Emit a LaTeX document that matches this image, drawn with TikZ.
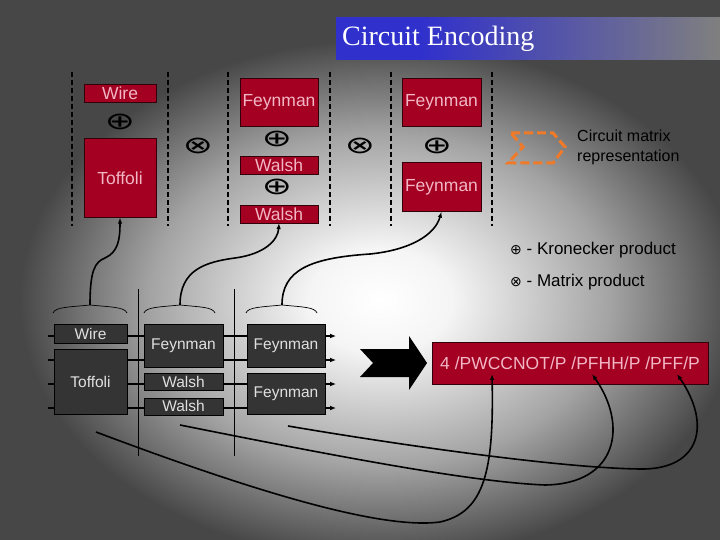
\documentclass[tikz,border=0pt]{standalone}
\usepackage{fontspec}
\setsansfont{Liberation Sans}
\newfontfamily\titlefont{Liberation Serif}
\newfontfamily\symfont{DejaVu Sans}
\usepackage{xcolor}
\usetikzlibrary{arrows.meta}
\usetikzlibrary{positioning}

\definecolor{boxred}{RGB}{163,0,34}
\definecolor{boxpink}{RGB}{242,182,196}
\definecolor{boxdark}{RGB}{52,52,52}
\definecolor{titleblue}{RGB}{48,48,204}
\definecolor{chevorange}{RGB}{240,122,40}

\pgfdeclareradialshading{slidebg}{\pgfpointorigin}{%
  color(0bp)=(white); color(5bp)=(white!96!black);
  color(16bp)=(black!36); color(25bp)=(black!72); color(50bp)=(black!72)}
\pgfdeclarehorizontalshading{titlebar}{100bp}{%
  color(0bp)=(titleblue); color(36bp)=(titleblue);
  color(75bp)=(black!50); color(100bp)=(black!50)}

\newcommand{\kronsym}{\scalebox{1.5}[1]{⊕}}
\newcommand{\prodsym}{\scalebox{1.5}[1]{⊗}}

\tikzset{
  redbox/.style={shape=rectangle, draw=black!70!boxred, fill=boxred,
    text=boxpink, inner sep=0pt, font=\sffamily\fontsize{17.5}{20}\selectfont},
  darkbox/.style={shape=rectangle, draw=black, fill=boxdark,
    text=black!12, inner sep=0pt, font=\sffamily\fontsize{15.5}{18}\selectfont},
  opsym/.style={inner sep=0pt, font=\symfont\fontsize{24}{24}\selectfont},
  sepline/.style={line width=2.5pt, dash pattern=on 5pt off 3pt},
  wireline/.style={line width=2pt, -{Latex[length=6pt,width=5pt]}},
  linkline/.style={line width=1.6pt, -{Latex[length=6pt,width=4.5pt]}},
}

\begin{document}
\begin{tikzpicture}[x=1pt, y=-1pt, font=\sffamily]
  \useasboundingbox (0,0) rectangle (720,540);

  % slide background
  \fill[black!72] (0,0) rectangle (720,540);
  \begin{scope}
    \clip (0,0) rectangle (720,540);
    \shade[shading=slidebg] (20,40) rectangle (740,560);
  \end{scope}
  \shade[shading=titlebar] (336,18) rectangle (720,60);
  \node[name=title, anchor=west, text=white, inner sep=0pt,
    font=\titlefont\fontsize{28}{30}\selectfont] at (342,39) {Circuit Encoding};

  % top: matrix form
  \foreach \x in {72,168,228,330,391,492}
    \draw[sepline] (\x,72) -- (\x,226);

  \node[name=wireR, redbox, minimum width=72pt, minimum height=18pt] at (120,93) {Wire};
  \node[name=kron1, opsym] at (120,122) {\kronsym};
  \node[name=toffR, redbox, minimum width=72pt, minimum height=79pt,
    below=36pt of wireR] {Toffoli};
  \node[name=prod1, opsym] at (198,146) {\prodsym};

  \node[name=feynR1, redbox, minimum width=78pt, minimum height=48pt] at (279,102) {Feynman};
  \node[name=kron2, opsym] at (277,139) {\kronsym};
  \node[name=walshR1, redbox, minimum width=78pt, minimum height=18pt,
    below=30pt of feynR1] {Walsh};
  \node[name=kron3, opsym] at (277,187) {\kronsym};
  \node[name=walshR2, redbox, minimum width=78pt, minimum height=18pt,
    below=30pt of walshR1] {Walsh};
  \node[name=prod2, opsym] at (360,146) {\prodsym};

  \node[name=feynR2, redbox, minimum width=79pt, minimum height=48pt] at (441.5,102) {Feynman};
  \node[name=kron4, opsym] at (437,146) {\kronsym};
  \node[name=feynR3, redbox, minimum width=79pt, minimum height=49pt,
    below=36pt of feynR2] {Feynman};

  % legend
  \draw[chevorange, line width=3pt, dash pattern=on 9pt off 4pt]
    (511,133) -- (553,133) -- (565,147) -- (553,163) -- (508,163) -- (523,147) -- cycle;
  \node[name=chevtext, anchor=west, align=left, inner sep=0pt,
    font=\sffamily\fontsize{16}{20}\selectfont] at (577,147) {Circuit matrix\\representation};
  \node[name=legkron, anchor=west, inner sep=0pt, font=\sffamily\fontsize{17}{20}\selectfont]
    at (510,250) {{\symfont\fontsize{14}{14}\selectfont ⊕} - Kronecker product};
  \node[name=legprod, anchor=west, inner sep=0pt, font=\sffamily\fontsize{17}{20}\selectfont]
    at (510,282) {{\symfont\fontsize{14}{14}\selectfont ⊗} - Matrix product};

  % bottom: circuit form
  \foreach \x in {138,234}
    \draw[line width=0.8pt] (\x,289) -- (\x,456);
  \foreach \l/\m/\r in {53/90/127, 144/180/215, 246/282/317}
    \draw[line width=0.7pt] (\l,313) .. controls (\l+2,307) and (\m-20,307) .. (\m,305)
      .. controls (\m+20,307) and (\r-2,307) .. (\r,313);
  \coordinate (bA) at (90,305);
  \coordinate (bB) at (180,305);
  \coordinate (bC) at (282,305);

  \foreach \i/\y in {1/336, 2/360, 3/384, 4/408} {
    \coordinate (in\i) at (48,\y);
    \coordinate (out\i) at (336,\y);
    \draw[wireline] (in\i) -- (out\i);
  }

  \node[name=wireD, darkbox, minimum width=73pt, minimum height=19pt] at (90.5,333.5) {Wire};
  \node[name=toffD, darkbox, minimum width=73pt, minimum height=65pt,
    below=6pt of wireD] {Toffoli};
  \node[name=feynD1, darkbox, minimum width=79pt, minimum height=43pt] at (183.5,345.5) {Feynman};
  \node[name=walshD1, darkbox, minimum width=79pt, minimum height=17pt,
    below=6pt of feynD1] {Walsh};
  \node[name=walshD2, darkbox, minimum width=79pt, minimum height=17pt,
    below=7pt of walshD1] {Walsh};
  \node[name=feynD2, darkbox, minimum width=78pt, minimum height=43pt] at (286,345.5) {Feynman};
  \node[name=feynD3, darkbox, minimum width=78pt, minimum height=41pt,
    below=6pt of feynD2] {Feynman};

  % encoding
  \fill[black] (360,349) -- (409,349) -- (409,336) -- (427,363) -- (409,390)
    -- (409,377) -- (360,377) -- (373,363) -- cycle;
  \node[name=encR, redbox, minimum width=276pt, minimum height=42pt] at (570,363)
    {4 /PWCCNOT/P /PFHH/P /PFF/P};
  \coordinate (e1) at (492,374);
  \coordinate (e2) at (592,374);
  \coordinate (e3) at (677,374);
  \coordinate (cA) at (96,432);
  \coordinate (cB) at (180,425);
  \coordinate (cC) at (288,426);

  % links
  \draw[linkline] (bA) .. controls (90,270) and (95,262) .. (105,258)
    .. controls (118,252) and (120,240) .. (toffR.south);
  \draw[linkline] (bB) .. controls (180,270) and (205,262) .. (235,258)
    .. controls (265,254) and (278,240) .. (walshR2.south);
  \draw[linkline] (bC) .. controls (282,270) and (310,258) .. (370,254)
    .. controls (410,250) and (435,235) .. (feynR3.south);

  \draw[linkline] (cA) .. controls (250,490) and (380,530) .. (440,522)
    .. controls (485,512) and (494,470) .. (e1);
  \draw[linkline] (cB) .. controls (330,455) and (470,482) .. (545,485)
    .. controls (618,484) and (628,425) .. (e2);
  \draw[linkline] (cC) .. controls (400,445) and (560,468) .. (640,469)
    .. controls (700,470) and (712,425) .. (e3);
\end{tikzpicture}
\end{document}
